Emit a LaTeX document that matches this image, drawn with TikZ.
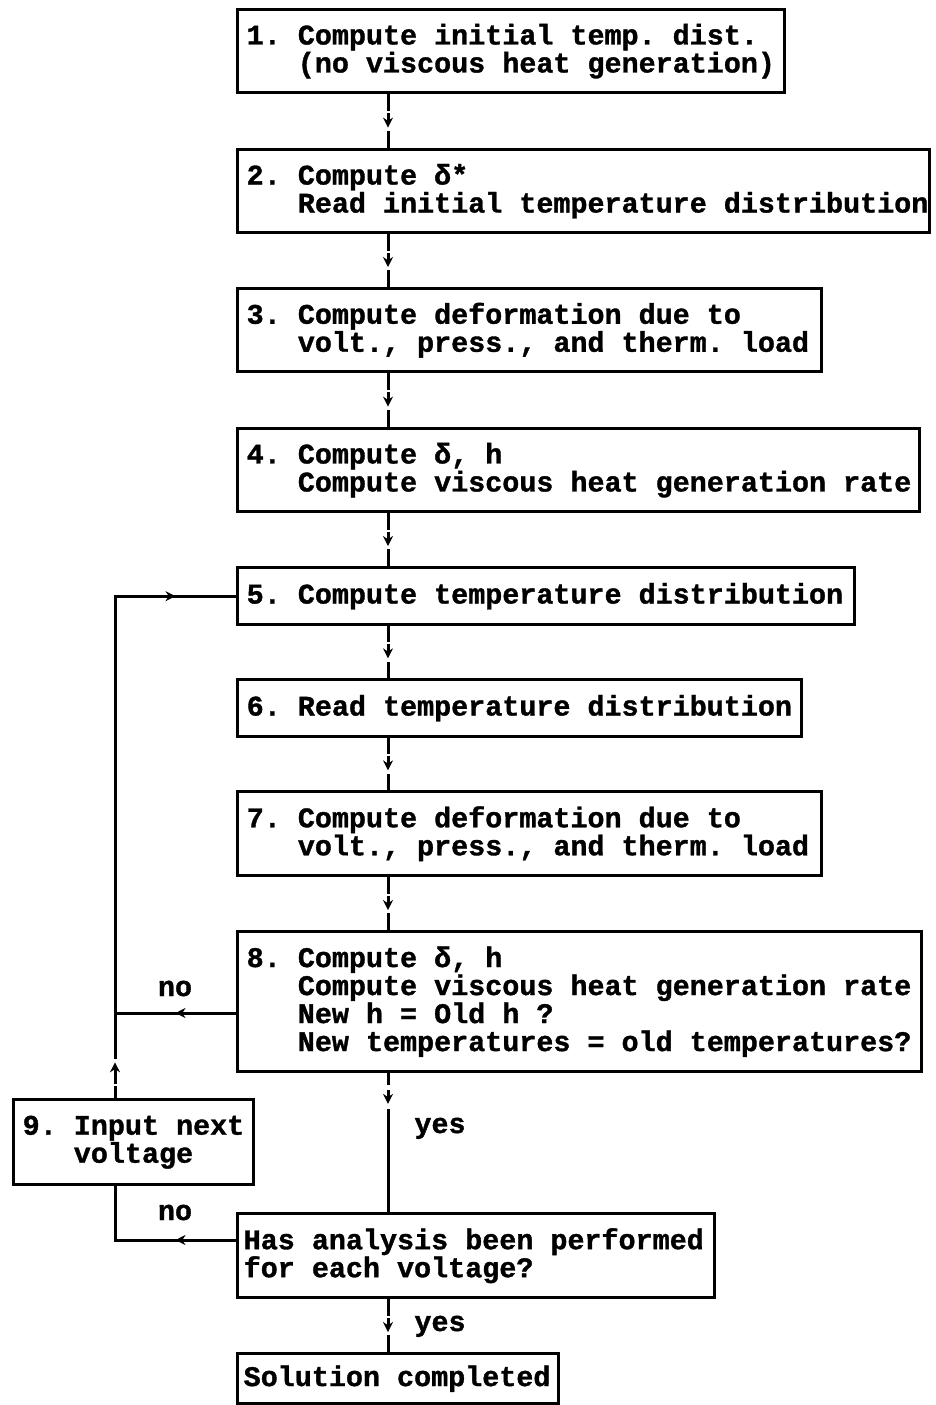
\documentclass[tikz,border=0pt]{standalone}
\usepackage{fontspec}
\newfontfamily\boxfont{Liberation Mono}[BoldFeatures={FakeBold=1.2}]
\usetikzlibrary{arrows.meta,decorations.markings,calc}
\newcommand{\bxfont}{\boxfont\bfseries\fontsize{28.4}{28}\selectfont}
\newcommand{\fixsp}{\spaceskip=0.6em\relax\xspaceskip=0.6em\relax\rightskip=-300pt plus 1fil\relax}
\tikzset{
  box/.style={draw, line width=3.4pt, anchor=north west, inner xsep=9pt, inner ysep=0pt,
    align=left, font=\bxfont, execute at begin node=\fixsp},
  conn/.style={line width=3pt, line cap=rect},
  tipd/.style={line width=3pt, -{Stealth[length=10pt,width=10pt]}},
  arr/.style={conn, postaction={decorate}, decoration={markings,
    mark=at position #1 with {\arrow{Stealth[length=10pt,width=10pt]}}}},
  arr/.default=0.5,
  lbl/.style={font=\bxfont, inner sep=0pt, anchor=base}
}
% broken connector: line, gap, short arrow, gap, line
\newcommand{\gconn}[6]{%
  \draw[conn] (#1) -- ($(#1)!#3!(#2)$);
  \draw[tipd] ($(#1)!#4!(#2)$) -- ($(#1)!#5!(#2)$);
  \draw[conn] ($(#1)!#6!(#2)$) -- (#2);}
\newcommand{\ind}{\hspace*{1.8em}}
\hbadness=10000 \hfuzz=400pt
\begin{document}
\begin{tikzpicture}[x=1pt,y=-1pt]
\useasboundingbox (0,0) rectangle (936,1405);
\fill[white] (0,0) rectangle (936,1405);
\node[box, text width=529pt, minimum height=83pt] (b1) at (236,8)
  {1. Compute initial temp. dist.\\\ind(no viscous heat generation)};
\node[box, text width=674pt, minimum height=83pt] (b2) at (236,148)
  {2. Compute δ*\\\ind Read initial temperature distribution};
\node[box, text width=566pt, minimum height=83pt] (b3) at (236,287)
  {3. Compute deformation due to\\\ind volt., press., and therm. load};
\node[box, text width=664pt, minimum height=83pt] (b4) at (236,427)
  {4. Compute δ, h\\\ind Compute viscous heat generation rate};
\node[box, text width=599pt, minimum height=57pt] (b5) at (236,566)
  {5. Compute temperature distribution};
\node[box, text width=546pt, minimum height=57pt] (b6) at (236,678)
  {6. Read temperature distribution};
\node[box, text width=566pt, minimum height=84pt] (b7) at (236,790)
  {7. Compute deformation due to\\\ind volt., press., and therm. load};
\node[box, text width=666pt, minimum height=140pt] (b8) at (236,930)
  {8. Compute δ, h\\\ind Compute viscous heat generation rate\\\ind New h = Old h ?\\\ind New temperatures = old temperatures?};
\node[box, text width=222pt, minimum height=85pt] (b9) at (12,1098)
  {9. Input next\\\ind voltage};
\node[box, minimum height=84pt, inner xsep=6pt, text width=465pt] (b10) at (236,1212)
  {Has analysis been performed\\for each voltage?};
\node[box, minimum height=50pt, inner xsep=6pt, text width=309pt] (b11) at (236,1352)
  {Solution completed};

\coordinate (cx) at (388,0);
\coordinate (lx) at (115,0);
\coordinate (j8) at (115,1013);
\coordinate (j10) at (115,1240);

\coordinate (s1) at (b1.south -| cx); \coordinate (n2) at (b2.north -| cx);
\coordinate (s2) at (b2.south -| cx); \coordinate (n3) at (b3.north -| cx);
\coordinate (s3) at (b3.south -| cx); \coordinate (n4) at (b4.north -| cx);
\coordinate (s4) at (b4.south -| cx); \coordinate (n5) at (b5.north -| cx);
\coordinate (s5) at (b5.south -| cx); \coordinate (n6) at (b6.north -| cx);
\coordinate (s6) at (b6.south -| cx); \coordinate (n7) at (b7.north -| cx);
\coordinate (s7) at (b7.south -| cx); \coordinate (n8) at (b8.north -| cx);
\coordinate (s8) at (b8.south -| cx); \coordinate (n10) at (b10.north -| cx);
\coordinate (s10) at (b10.south -| cx); \coordinate (n11) at (b11.north -| cx);
\coordinate (n9) at (b9.north -| lx);

\gconn{s1}{n2}{0.28}{0.35}{0.62}{0.71}
\gconn{s2}{n3}{0.28}{0.35}{0.62}{0.71}
\gconn{s3}{n4}{0.28}{0.35}{0.62}{0.71}
\gconn{s4}{n5}{0.28}{0.35}{0.62}{0.71}
\gconn{s5}{n6}{0.28}{0.35}{0.62}{0.71}
\gconn{s6}{n7}{0.28}{0.35}{0.62}{0.71}
\gconn{s7}{n8}{0.28}{0.35}{0.62}{0.71}
\gconn{s8}{n10}{0.07}{0.12}{0.22}{0.27}
\gconn{s10}{n11}{0.28}{0.35}{0.62}{0.71}
\gconn{n9}{j8}{0.12}{0.17}{0.42}{0.48}

\draw[arr] (b8.west |- j8) -- (j8);
\draw[conn] (j8) -- (lx |- b5.west);
\draw[arr] (lx |- b5.west) -- (b5.west);
\draw[arr] (b10.west |- j10) -- (j10);
\draw[conn] (j10) -- (b9.south -| lx);

\node[lbl] (no1) at (175,996) {no};
\node[lbl] (no2) at (175,1220) {no};
\node[lbl] (yes1) at (440,1133) {yes};
\node[lbl] (yes2) at (440,1331) {yes};
\end{tikzpicture}
\end{document}
